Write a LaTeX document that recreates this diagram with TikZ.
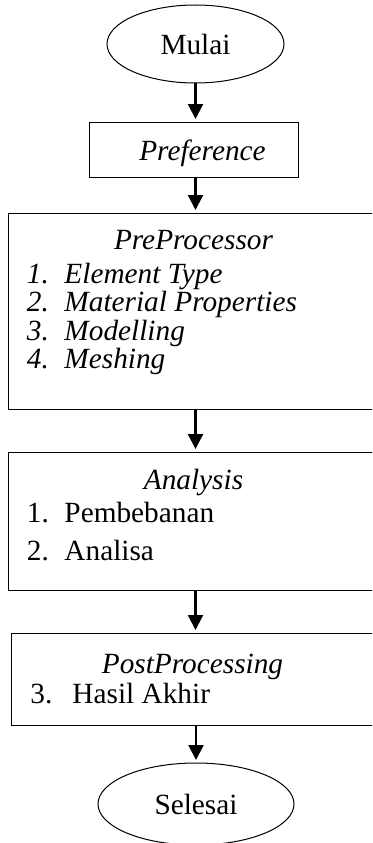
\documentclass[tikz,border=0pt]{standalone}
\usepackage{fontspec}
\setmainfont{Liberation Serif}
\usetikzlibrary{arrows.meta,shapes.geometric}
\newcommand{\itemno}[2]{\makebox[#1][l]{#2}}
\begin{document}
\begin{tikzpicture}[x=1pt,y=-1pt,
  every node/.style={font=\fontsize{29.3}{35}\selectfont},
  terminal/.style={draw, ellipse, line width=1pt, inner sep=0pt, outer sep=0pt},
  stepbox/.style={draw, rectangle, line width=1pt, inner sep=0pt, outer sep=0pt, anchor=north west},
  widebox/.style={rectangle, inner sep=0pt, outer sep=0pt, anchor=north west},
  boxline/.style={line width=1pt},
  txt/.style={inner sep=0pt, outer sep=0pt, anchor=base west},
  itxt/.style={txt, font=\fontsize{29.3}{35}\selectfont\itshape},
  heading/.style={inner sep=0pt, outer sep=0pt, anchor=base, font=\fontsize{29.3}{35}\selectfont\itshape},
  flow/.style={line width=2.2pt, -{Triangle[length=15pt,width=15pt]}, shorten >=3pt}]
\useasboundingbox (0,0) rectangle (372,843);
\clip (0,0) rectangle (372,843);

% start / end terminals
\node[terminal, minimum width=177pt, minimum height=78pt] (mulai) at (195.5,44) {Mulai};
\node[terminal, minimum width=196pt, minimum height=82pt] (selesai) at (196,804) {Selesai};

% process boxes (the wide ones run out past the right margin)
\node[stepbox, minimum width=209pt, minimum height=55pt] (pref) at (89,122) {};
\node[widebox, minimum width=400pt, minimum height=196pt] (pre) at (8,213) {};
\node[widebox, minimum width=400pt, minimum height=138pt] (ana) at (8,452) {};
\node[widebox, minimum width=400pt, minimum height=92pt] (post) at (11,633) {};
\foreach \b in {pre,ana,post}
  \draw[boxline] (\b.north east) -- (\b.north west) -- (\b.south west) -- (\b.south east);

% box contents
\node[heading] (preftxt) at (202.5,160) {Preference};

\node[heading] (pretitle) at (193.5,249) {PreProcessor};
\node[itxt] (pre1) at (27,283) {\itemno{37.5pt}{1.}Element Type};
\node[itxt] (pre2) at (27,311.5) {\itemno{37.5pt}{2.}Material Properties};
\node[itxt] (pre3) at (27,340) {\itemno{37.5pt}{3.}Modelling};
\node[itxt] (pre4) at (27,368) {\itemno{37.5pt}{4.}Meshing};

\node[heading] (anatitle) at (193.5,489) {Analysis};
\node[txt] (ana1) at (27,522) {\itemno{37.5pt}{1.}Pembebanan};
\node[txt] (ana2) at (27,560) {\itemno{37.5pt}{2.}Analisa};

\node[heading] (posttitle) at (192.5,673) {PostProcessing};
\node[txt] (post1) at (30.5,703) {\itemno{42pt}{3.}Hasil Akhir};

% flow connectors
\draw[flow] (mulai.south) -- (mulai.south |- pref.north);
\draw[flow] (pref.south -| mulai) -- (pre.north -| mulai);
\draw[flow] (pre.south -| mulai) -- (ana.north -| mulai);
\draw[flow] (ana.south -| mulai) -- (post.north -| mulai);
\draw[flow] (post.south -| selesai) -- (selesai.north);
\end{tikzpicture}
\end{document}
